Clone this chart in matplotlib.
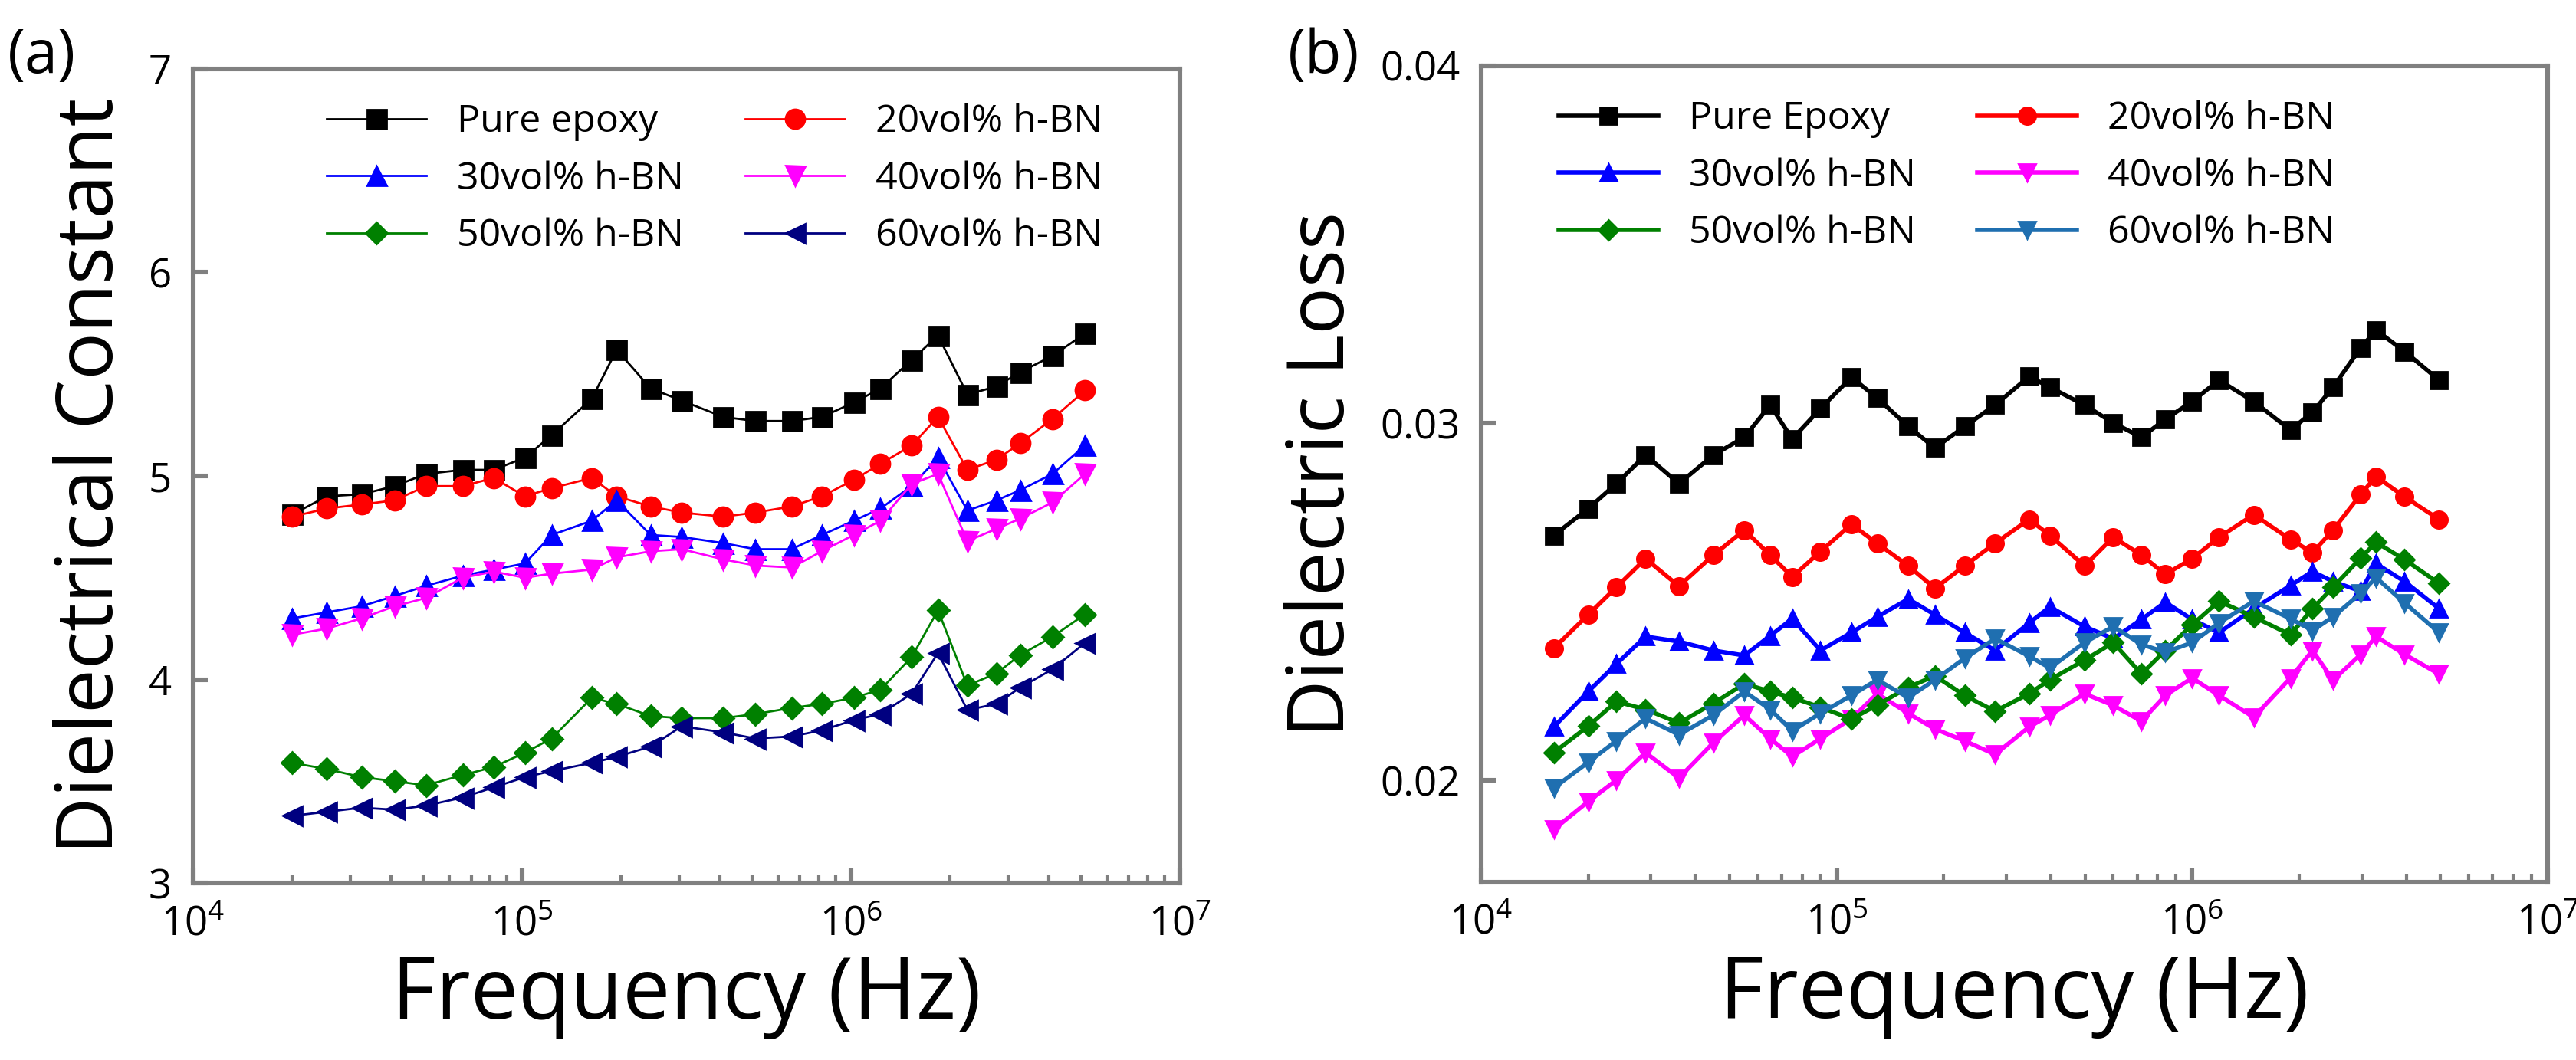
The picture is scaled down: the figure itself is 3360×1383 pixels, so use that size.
import matplotlib
matplotlib.use("Agg")
import matplotlib.pyplot as plt
from matplotlib.ticker import LogLocator, FixedLocator

plt.rcParams['font.family'] = ['Open Sans', 'DejaVu Sans']

# ---------- panel (a) ----------
freq_a = [2.0e4, 2.55e4, 3.25e4, 4.1e4, 5.1e4, 6.6e4, 8.2e4, 1.02e5, 1.23e5, 1.63e5, 1.94e5,
          2.46e5, 3.06e5, 4.09e5, 5.12e5, 6.6e5, 8.16e5, 1.02e6, 1.23e6, 1.53e6, 1.84e6,
          2.26e6, 2.77e6, 3.27e6, 4.1e6, 5.15e6]
a_pure = [4.81, 4.90, 4.91, 4.95, 5.01, 5.03, 5.03, 5.09, 5.20, 5.38, 5.62, 5.43, 5.37,
          5.29, 5.27, 5.27, 5.29, 5.36, 5.43, 5.57, 5.69, 5.40, 5.44, 5.51, 5.59, 5.70]
a_20 = [4.80, 4.84, 4.86, 4.88, 4.95, 4.95, 4.99, 4.90, 4.94, 4.99, 4.90, 4.85, 4.82,
        4.80, 4.82, 4.85, 4.90, 4.98, 5.06, 5.15, 5.29, 5.03, 5.08, 5.16, 5.28, 5.42]
a_30 = [4.30, 4.33, 4.36, 4.41, 4.46, 4.51, 4.54, 4.57, 4.71, 4.78, 4.88, 4.71, 4.70,
        4.67, 4.64, 4.64, 4.71, 4.78, 4.84, 4.95, 5.09, 4.83, 4.88, 4.93, 5.01, 5.15]
a_40 = [4.22, 4.25, 4.30, 4.36, 4.40, 4.50, 4.53, 4.50, 4.52, 4.54, 4.60, 4.63, 4.64,
        4.59, 4.56, 4.55, 4.63, 4.71, 4.78, 4.96, 5.01, 4.68, 4.74, 4.79, 4.87, 5.01]
a_50 = [3.59, 3.56, 3.52, 3.50, 3.48, 3.53, 3.57, 3.64, 3.71, 3.91, 3.88, 3.82, 3.81,
        3.81, 3.83, 3.86, 3.88, 3.91, 3.95, 4.11, 4.34, 3.97, 4.03, 4.12, 4.21, 4.32]
a_60 = [3.33, 3.35, 3.37, 3.36, 3.38, 3.42, 3.47, 3.52, 3.55, 3.59, 3.62, 3.67, 3.77,
        3.74, 3.71, 3.72, 3.75, 3.80, 3.83, 3.93, 4.13, 3.85, 3.88, 3.96, 4.05, 4.18]

# ---------- panel (b) ----------
freq_b = [1.6e4, 2.0e4, 2.4e4, 2.9e4, 3.6e4, 4.5e4, 5.5e4, 6.5e4, 7.5e4, 9.0e4, 1.10e5,
          1.30e5, 1.59e5, 1.89e5, 2.29e5, 2.79e5, 3.48e5, 3.98e5, 4.98e5, 6.0e5, 7.2e5,
          8.4e5, 1.0e6, 1.19e6, 1.49e6, 1.89e6, 2.18e6, 2.49e6, 2.98e6, 3.29e6, 3.96e6, 4.95e6]
b_pure = [.02685, .0276, .0283, .0291, .0283, .0291, .0296, .0305, .02955, .0304, .03128,
          .0307, .0299, .0293, .0299, .0305, .0313, .0310, .0305, .0300, .0296, .0301,
          .0306, .0312, .0306, .0298, .0303, .0310, .0321, .0326, .0320, .0312]
b_20 = [.02369, .02463, .0254, .0262, .02543, .0263, .0270, .0263, .02569, .0264, .02716,
        .02663, .0260, .02537, .0260, .02663, .0273, .02685, .0260, .0268, .0263, .02576,
        .0262, .0268, .02743, .02674, .02637, .0270, .0280, .0285, .02793, .0273]
b_30 = [.02149, .02248, .02325, .02402, .02388, .02363, .02349, .02404, .02452, .02363,
        .02413, .02457, .02507, .02463, .02413, .02363, .0244, .02485, .0243, .02396,
        .0245, .02498, .0245, .02413, .0248, .02545, .02584, .02556, .02529, .02606,
        .02556, .0248]
b_40 = [.01862, .0194, .0200, .02077, .02006, .02105, .02182, .02116, .02066, .02116,
        .02172, .02242, .02187, .02143, .0211, .02072, .02149, .02182, .02242, .02209,
        .02165, .02237, .02286, .02237, .02176, .02286, .02363, .0228, .02352, .02402,
        .02352, .02297]
b_50 = [.02077, .02151, .0222, .02198, .0216, .02215, .0227, .02248, .02231, .02204,
        .02171, .0221, .0226, .02292, .02237, .02193, .02242, .02281, .02336, .02385,
        .02297, .02363, .02435, .02501, .02457, .02407, .0248, .0254, .02622, .02666,
        .02617, .02551]
b_60 = [.01978, .0205, .0211, .02173, .02127, .02182, .02248, .02198, .02138, .02187,
        .02237, .02281, .02231, .02281, .02341, .02396, .02347, .02314, .02385, .0243,
        .0238, .02358, .02385, .0244, .02501, .02452, .02419, .02457, .02523, .02567,
        .02496, .02413]

fig = plt.figure(figsize=(16.8, 6.915), dpi=200)
axa = fig.add_axes([0.075, 0.167, 0.383, 0.768])
axb = fig.add_axes([0.575, 0.168, 0.414, 0.770])

series_a = [
    (a_pure, 'Pure epoxy', 'black', 's'),
    (a_20, '20vol% h-BN', 'red', 'o'),
    (a_30, '30vol% h-BN', 'blue', '^'),
    (a_40, '40vol% h-BN', 'magenta', 'v'),
    (a_50, '50vol% h-BN', 'green', 'D'),
    (a_60, '60vol% h-BN', 'navy', '<'),
]
for y, lab, c, m in series_a:
    ms = 7 if m == 'D' else 9
    axa.plot(freq_a, y, color=c, marker=m, ms=ms, lw=1.0, label=lab)

series_b = [
    (b_pure, 'Pure Epoxy', 'black', 's'),
    (b_20, '20vol% h-BN', 'red', 'o'),
    (b_30, '30vol% h-BN', 'blue', '^'),
    (b_40, '40vol% h-BN', 'magenta', 'v'),
    (b_50, '50vol% h-BN', 'green', 'D'),
    (b_60, '60vol% h-BN', '#1f6fb0', 'v'),
]
for y, lab, c, m in series_b:
    ms = 6.5 if m == 'D' else 8
    axb.plot(freq_b, y, color=c, marker=m, ms=ms, lw=2.0, label=lab)

order = [0, 2, 4, 1, 3, 5]
for ax, anchor in ((axa, (0.1, 1.0)), (axb, (0.04, 1.0))):
    ax.set_xscale('log')
    ax.set_xlim(1e4, 1e7)
    ax.xaxis.set_major_locator(LogLocator(base=10, numticks=10))
    ax.xaxis.set_minor_locator(LogLocator(base=10, subs=range(2, 10), numticks=20))
    for s in ax.spines.values():
        s.set_color('#808080')
        s.set_linewidth(2.2)
    ax.tick_params(which='major', direction='in', length=7, width=2.2, color='#808080',
                   labelsize=19, pad=10)
    ax.tick_params(which='minor', direction='in', length=4, width=1.5, color='#808080')
    ax.set_xlabel('Frequency (Hz)', fontsize=40, labelpad=4)
    h, l = ax.get_legend_handles_labels()
    ax.legend([h[i] for i in order], [l[i] for i in order], loc='upper left', ncol=2,
              frameon=False, fontsize=18, bbox_to_anchor=anchor, columnspacing=1.6,
              handlelength=2.6, labelspacing=0.5)

axa.set_ylim(3, 7)
axa.yaxis.set_major_locator(FixedLocator([3, 4, 5, 6, 7]))
axa.set_ylabel('Dielectrical Constant', fontsize=37, labelpad=8)
axb.set_ylim(0.01715, 0.04)
axb.yaxis.set_major_locator(FixedLocator([0.02, 0.03, 0.04]))
axb.set_ylabel('Dielectric Loss', fontsize=37, labelpad=8)

fig.text(0.003, 0.975, '(a)', fontsize=28, va='top')
fig.text(0.500, 0.975, '(b)', fontsize=28, va='top')

fig.savefig('out.png', dpi=200)
